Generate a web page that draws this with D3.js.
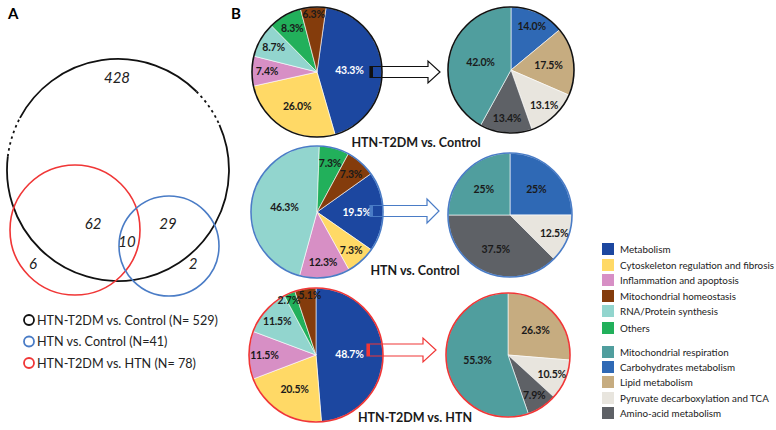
<!DOCTYPE html>
<html><head><meta charset="utf-8">
<script src="https://cdn.jsdelivr.net/npm/d3@7"></script>
<style>body{margin:0;background:#fff}svg{display:block}text{font-family:Lato,"Open Sans",sans-serif}</style>
</head><body><svg id="c" width="776" height="430"></svg>
<script>
// ---------- DATA ----------
const vennSetNames = ["HTN-T2DM vs. Control", "HTN vs. Control", "HTN-T2DM vs. HTN"];
const vennSetTotals = ["N= 529", "N=41", "N= 78"];
const vennRegionCounts = [428, 62, 10, 29, 6, 2]; // T2DMvsCtrl only, T2DMvsCtrl∩T2DMvsHTN, all three, T2DMvsCtrl∩HTNvsCtrl, T2DMvsHTN only, HTNvsCtrl only

const functionCategories = ["Metabolism", "Cytoskeleton regulation and fibrosis", "Inflammation and apoptosis", "Mitochondrial homeostasis", "RNA/Protein synthesis", "Others"];
const functionOrderInPie = [0, 1, 2, 4, 5, 3];
const funcHTNT2DMvsControl = [43.3, 26.0, 7.4, 6.3, 8.7, 8.3];
const funcHTNvsControl     = [19.5, 7.3, 12.3, 7.3, 46.3, 7.3];
const funcHTNT2DMvsHTN     = [48.7, 20.5, 11.5, 5.1, 11.5, 2.7];

const metabolismCategories = ["Mitochondrial respiration", "Carbohydrates metabolism", "Lipid metabolism", "Pyruvate decarboxylation and TCA", "Amino-acid metabolism"];
const metabolismOrderInPie = [1, 2, 3, 4, 0];
const metaHTNT2DMvsControl = [42.0, 14.0, 17.5, 13.1, 13.4];
const metaHTNvsControl     = [25, 25, 0, 12.5, 37.5];
const metaHTNT2DMvsHTN     = [55.3, 0, 26.3, 10.5, 7.9];

const comparisonTitles = ["HTN-T2DM vs. Control", "HTN vs. Control", "HTN-T2DM vs. HTN"];

// ---------- STYLE ----------
const funcColors = ["#1c47a0", "#ffd966", "#d78fc5", "#843c0c", "#92d5ce", "#22b05b"];
const metaColors = ["#509e9e", "#2f69b5", "#c6ac80", "#e8e5de", "#5e6166"];
const setColors = ["#111111", "#4a7cc6", "#f03636"];

const svg = d3.select("#c");

// panel letters
svg.append("text").attr("x", 8).attr("y", 19).attr("font-size", 15).attr("font-weight", "bold").text("A");
svg.append("text").attr("x", 231).attr("y", 19).attr("font-size", 15).attr("font-weight", "bold").text("B");

// ---------- VENN ----------
const venn = [
  {cx: 118, cy: 170, r: 111, color: setColors[0]},
  {cx: 169, cy: 246, r: 50, color: setColors[1]},
  {cx: 75, cy: 230, r: 65, color: setColors[2]}
];
const deg = Math.PI / 180;
function arcPath(c, a0, a1) { // d3 angle convention (0 = top, clockwise), degrees
  const p = d3.path();
  p.arc(c.cx, c.cy, c.r, (a0 - 90) * deg, (a1 - 90) * deg, false);
  return p.toString();
}
const big = venn[0];
[[66, 277], [298, 405]].forEach(s => svg.append("path").attr("d", arcPath(big, s[0], s[1]))
  .attr("fill", "none").attr("stroke", big.color).attr("stroke-width", 1.8));
[[277, 298], [45, 66]].forEach(s => svg.append("path").attr("d", arcPath(big, s[0], s[1]))
  .attr("fill", "none").attr("stroke", big.color).attr("stroke-width", 1.8).attr("stroke-dasharray", "2.5,3.5"));
[venn[2], venn[1]].forEach(c => svg.append("circle").attr("cx", c.cx).attr("cy", c.cy).attr("r", c.r)
  .attr("fill", "none").attr("stroke", c.color).attr("stroke-width", 1.6));

const vennLabelPos = [[117, 77], [93, 223], [127, 241], [168, 223], [33, 263], [193, 263]];
svg.selectAll(".vl").data(vennRegionCounts).join("text")
  .attr("x", (d, i) => vennLabelPos[i][0]).attr("y", (d, i) => vennLabelPos[i][1])
  .attr("text-anchor", "middle").attr("dominant-baseline", "central")
  .attr("font-size", 15).attr("font-style", "italic").attr("fill", "#222").text(d => d);

// Venn legend
const vLeg = svg.append("g");
vennSetNames.forEach((n, i) => {
  const y = 320 + i * 21.5;
  vLeg.append("circle").attr("cx", 29).attr("cy", y).attr("r", 5).attr("fill", "none")
    .attr("stroke", setColors[i]).attr("stroke-width", 1.8);
  vLeg.append("text").attr("x", 37).attr("y", y).attr("dominant-baseline", "central")
    .attr("font-size", 12.6).attr("fill", "#222").text(`${n} (${vennSetTotals[i]})`);
});

// ---------- PIES ----------
function labelRadius(frac) {
  if (frac > 0.4) return 0.5;
  if (frac > 0.15) return 0.6;
  if (frac > 0.065) return 0.77;
  return 0.9;
}
function drawPie(cx, cy, r, values, order, colors, startDeg, border, whiteIdx, fmt) {
  const g = svg.append("g").attr("transform", `translate(${cx},${cy})`);
  const items = order.map(i => ({i, v: values[i]})).filter(d => d.v > 0);
  const total = d3.sum(items, d => d.v);
  const pie = d3.pie().sort(null).value(d => d.v).startAngle(startDeg * deg).endAngle(startDeg * deg + 2 * Math.PI);
  const arcs = pie(items);
  const arc = d3.arc().innerRadius(0).outerRadius(r);
  g.selectAll("path").data(arcs).join("path").attr("d", arc)
    .attr("fill", d => colors[d.data.i]).attr("stroke", "#ffffff").attr("stroke-width", 0.6);
  g.append("circle").attr("r", r).attr("fill", "none").attr("stroke", border).attr("stroke-width", 1.6);
  const f = d3.format(fmt);
  // label positions + simple horizontal de-collision
  const pos = arcs.map(d => {
    const a = (d.startAngle + d.endAngle) / 2;
    const lr = r * labelRadius(d.data.v / total);
    return {x: Math.sin(a) * lr, y: -Math.cos(a) * lr};
  });
  const minDx = 21;
  for (let i = 0; i < pos.length; i++) for (let j = i + 1; j < pos.length; j++) {
    const dx = pos[j].x - pos[i].x, dy = pos[j].y - pos[i].y;
    if (Math.abs(dy) < 11 && Math.abs(dx) < minDx) {
      const push = (minDx - Math.abs(dx)) / 2 * (dx >= 0 ? 1 : -1);
      pos[i].x -= push; pos[j].x += push;
    }
  }
  g.selectAll("text").data(arcs).join("text")
    .attr("transform", (d, k) => `translate(${pos[k].x},${pos[k].y})`)
    .attr("text-anchor", "middle").attr("dominant-baseline", "central")
    .attr("font-size", 10.5).attr("font-weight", "bold").attr("letter-spacing", -0.2)
    .attr("fill", d => d.data.i === whiteIdx ? "#ffffff" : "#1a1a1a")
    .text(d => f(d.data.v) + "%");
}
function drawArrow(x0, y, x1, xTip, halfShaft, halfHead, color) {
  const pts = [[x0, y - halfShaft], [x1, y - halfShaft], [x1, y - halfHead], [xTip, y], [x1, y + halfHead], [x1, y + halfShaft], [x0, y + halfShaft]];
  svg.append("path").attr("d", d3.line()(pts) + "Z").attr("fill", "none").attr("stroke", color).attr("stroke-width", 1.2);
  svg.append("rect").attr("x", x0).attr("y", y - halfShaft).attr("width", 3).attr("height", halfShaft * 2).attr("fill", color);
}

const rows = [
  {func: funcHTNT2DMvsControl, meta: metaHTNT2DMvsControl, L: [317, 72, 65], R: [511, 70, 63], start: 8, fmt: ".1f",
   arrow: [370, 72, 428, 440, 5.5, 11], title: [416, 142]},
  {func: funcHTNvsControl, meta: metaHTNvsControl, L: [317, 212, 66], R: [510, 215, 62], start: 54.6, fmt: ".1~f",
   arrow: [370, 211, 427, 439, 5.5, 12], title: [415, 270]},
  {func: funcHTNT2DMvsHTN, meta: metaHTNT2DMvsHTN, L: [316, 355, 67], R: [508, 355, 62], start: 0, fmt: ".1f",
   arrow: [367, 350, 423, 436, 6, 12], title: [415, 417]}
];
rows.forEach((row, k) => {
  const col = setColors[k];
  drawPie(row.L[0], row.L[1], row.L[2], row.func, functionOrderInPie, funcColors, row.start, col, 0, ".1f");
  drawArrow(...row.arrow, col);
  drawPie(row.R[0], row.R[1], row.R[2], row.meta, metabolismOrderInPie, metaColors, 0, col, -1, row.fmt);
  svg.append("text").attr("x", row.title[0]).attr("y", row.title[1]).attr("text-anchor", "middle")
    .attr("dominant-baseline", "central").attr("font-size", 12.5).attr("font-weight", "bold").attr("fill", "#1a1a1a")
    .text(comparisonTitles[k]);
});

// ---------- LEGEND ----------
const leg = svg.append("g");
const legRowsY1 = [249, 265, 280, 296, 311, 328];
const legRowsY2 = [352, 367, 382, 398, 413];
functionCategories.forEach((c, i) => {
  leg.append("rect").attr("x", 602).attr("y", legRowsY1[i] - 6).attr("width", 12).attr("height", 12).attr("fill", funcColors[i]);
  leg.append("text").attr("x", 620).attr("y", legRowsY1[i]).attr("dominant-baseline", "central").attr("font-size", 9.8).attr("fill", "#222").text(c);
});
metabolismCategories.forEach((c, i) => {
  leg.append("rect").attr("x", 602).attr("y", legRowsY2[i] - 6).attr("width", 12).attr("height", 12).attr("fill", metaColors[i]);
  leg.append("text").attr("x", 620).attr("y", legRowsY2[i]).attr("dominant-baseline", "central").attr("font-size", 9.8).attr("fill", "#222").text(c);
});
</script></body></html>
